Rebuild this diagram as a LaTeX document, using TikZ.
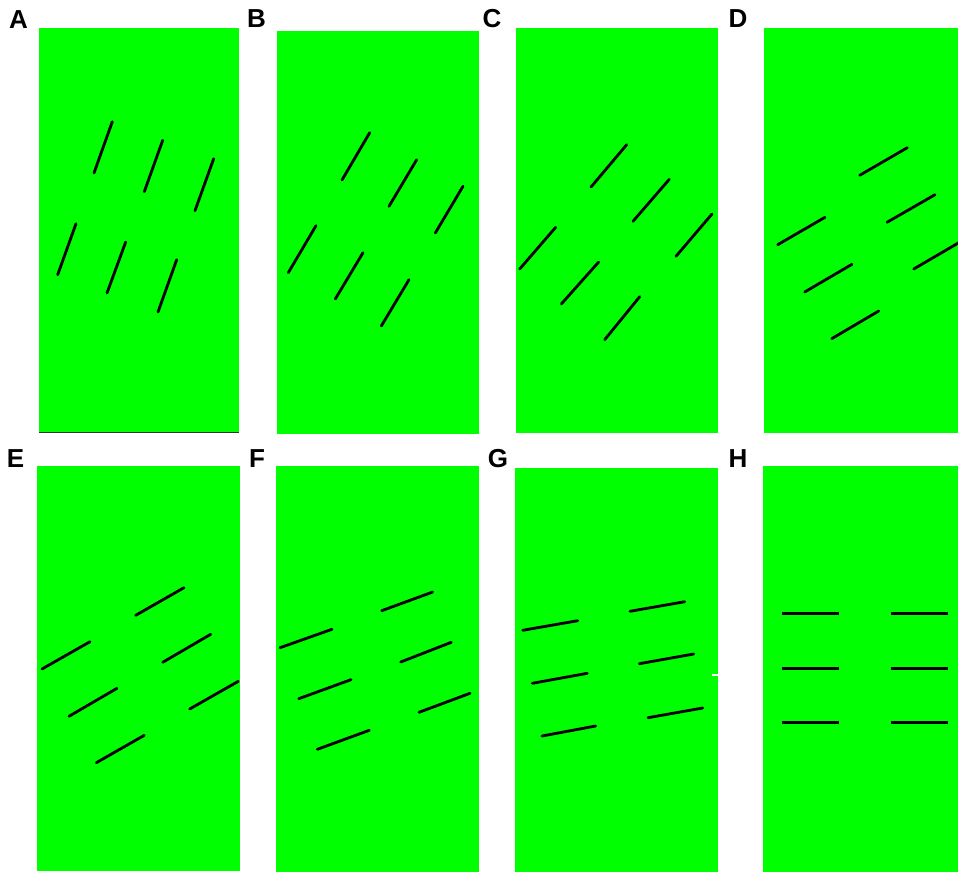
\documentclass[tikz,border=0pt]{standalone}
\usepackage{fontspec}
\setmainfont{Liberation Sans}
\definecolor{panelgreen}{RGB}{0,255,0}
\begin{document}
\begin{tikzpicture}[x=1pt,y=-1pt,
  panel/.style={fill=panelgreen,draw=none},
  bar/.style={line width=2.8pt,black,line cap=round},
  hbar/.style={line width=3pt,black,line cap=butt},
  lab/.style={font=\bfseries\fontsize{26}{26}\selectfont,inner sep=0pt}]
\useasboundingbox (0,0) rectangle (958,873);
% panels
\fill[panel] (39,28) rectangle (238.7,432);
\draw[line width=1.2pt,black!80] (39,432.5) -- (238.7,432.5);
\fill[panel] (276.7,31) rectangle (479,434.3);
\fill[panel] (516,28) rectangle (718.3,433.3);
\fill[panel] (764,28) rectangle (958,432.7);
\fill[panel] (37,466) rectangle (240,871);
\fill[panel] (275.7,466) rectangle (478.7,872.3);
\fill[panel] (515.3,467.7) rectangle (718.3,872.3);
\fill[panel] (762.7,466) rectangle (958,872.3);
% labels
\node[lab] (la) at (18.5,20) {A};
\node[lab] (lb) at (256.5,19) {B};
\node[lab] (lc) at (492,19) {C};
\node[lab] (ld) at (738,19) {D};
\node[lab] (le) at (15.5,458.5) {E};
\node[lab] (lf) at (257,459) {F};
\node[lab] (lg) at (498,459) {G};
\node[lab] (lh) at (738,459) {H};
% A
\draw[bar] (94,173) -- (112.3,121.7);
\draw[bar] (144.3,191.7) -- (162.7,140.3);
\draw[bar] (195,210.7) -- (213.7,158.7);
\draw[bar] (57.7,274.7) -- (76,223.7);
\draw[bar] (107,293) -- (125.7,242);
\draw[bar] (158,312) -- (176.7,259.7);
% B
\draw[bar] (342,180) -- (369.7,132.7);
\draw[bar] (389,206.3) -- (416.7,159.7);
\draw[bar] (435.3,233) -- (463,186.3);
\draw[bar] (288.3,272.7) -- (316,225.7);
\draw[bar] (335.3,299) -- (363,252.7);
\draw[bar] (381.3,326) -- (409,279.7);
% C
\draw[bar] (591,187) -- (626.7,144.7);
\draw[bar] (633,221.3) -- (669.3,179.3);
\draw[bar] (676,256.3) -- (712,214);
\draw[bar] (519.7,269) -- (555.7,227.3);
\draw[bar] (561.3,304) -- (598.7,262);
\draw[bar] (604.7,339.7) -- (639.7,296.7);
% D
\draw[bar] (859.7,175.3) -- (907.3,147.7);
\draw[bar] (887,222.3) -- (935,194.7);
\draw[bar] (913.7,269) -- (960,242);
\draw[bar] (777.7,244.7) -- (825,217.3);
\draw[bar] (804.7,292) -- (852,264.3);
\draw[bar] (831.7,338.7) -- (878.7,311);
% E
\draw[bar] (135.7,615.3) -- (184,587.7);
\draw[bar] (162.7,662.3) -- (210.7,634.3);
\draw[bar] (189.7,709) -- (238.3,681.3);
\draw[bar] (42,669) -- (90,641.7);
\draw[bar] (69,716.3) -- (117,688.3);
\draw[bar] (96.3,762.7) -- (144.3,735.3);
% F
\draw[bar] (381.7,610.7) -- (432.7,592);
\draw[bar] (400.7,662) -- (451.3,642.3);
\draw[bar] (419,712.3) -- (470,693.3);
\draw[bar] (280,647.7) -- (332,629.3);
\draw[bar] (298.7,698.7) -- (351,679.7);
\draw[bar] (317.3,749.3) -- (369.3,730.3);
% G
\draw[bar] (630,611.3) -- (684.7,601.7);
\draw[bar] (639.3,663.7) -- (693.7,654);
\draw[bar] (648,717.7) -- (702.7,708);
\draw[bar] (522.7,630.3) -- (577.7,620.7);
\draw[bar] (532.3,683.3) -- (587.3,673.3);
\draw[bar] (542,736) -- (595.7,726);
\draw[line width=2pt,white] (712,675) -- (718.5,675);
% H
\draw[hbar] (782.3,613.5) -- (839,613.5);
\draw[hbar] (890.7,613.5) -- (947.7,613.5);
\draw[hbar] (782.3,668.5) -- (839,668.5);
\draw[hbar] (890.7,668.5) -- (947.7,668.5);
\draw[hbar] (782.3,722.5) -- (839,722.5);
\draw[hbar] (890.7,722.5) -- (947.7,722.5);
\end{tikzpicture}
\end{document}
